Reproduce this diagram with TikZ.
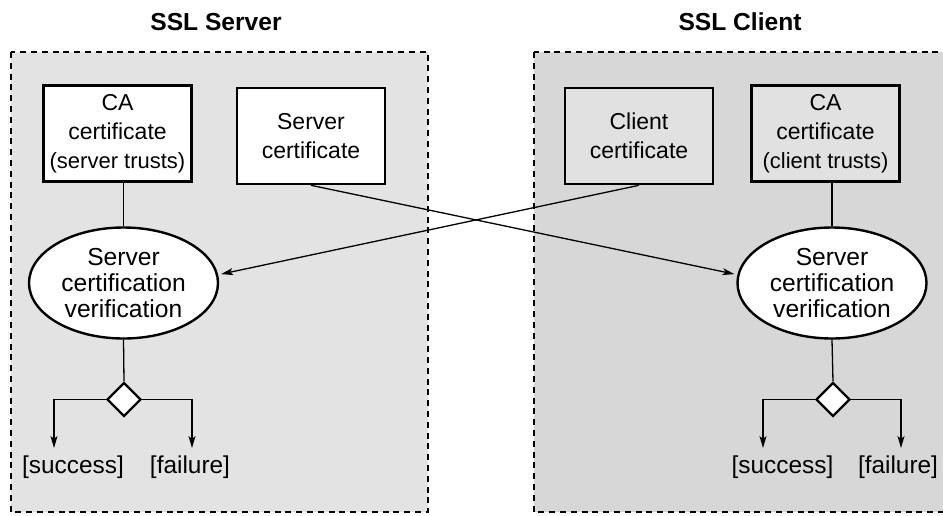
\documentclass[tikz,border=0pt]{standalone}
\usepackage{fontspec}
\setmainfont{Liberation Sans}
\usepackage{xcolor}
\usetikzlibrary{shapes.geometric,arrows.meta}

\definecolor{srvgray}{HTML}{E3E3E3}
\definecolor{cligray}{HTML}{D7D7D7}
\definecolor{boxgray}{HTML}{E1E1E1}

\tikzset{
	panel/.style={draw, line width=1.3pt, dash pattern=on 3pt off 2.4pt},
	certbox/.style={draw, line width=1.3pt, fill=white, minimum width=74pt, minimum height=48pt, align=center, inner sep=1pt, font=\fontsize{11.5}{14.5}\selectfont},
	verify/.style={ellipse, draw, line width=1.2pt, fill=white, minimum width=94.5pt, minimum height=55.5pt, inner sep=0pt, align=center, font=\fontsize{12.3}{13}\selectfont},
	choice/.style={diamond, draw, line width=1.2pt, fill=white, minimum size=17pt, inner sep=0pt},
	result/.style={inner sep=0pt, font=\fontsize{12.2}{14}\selectfont},
	title/.style={inner sep=0pt, font=\bfseries\fontsize{12.3}{14}\selectfont},
	link/.style={line width=0.65pt},
	flow/.style={line width=0.65pt, -{Stealth[length=6pt,width=3.5pt,inset=1.5pt]}}
}

\begin{document}
\begin{tikzpicture}[x=0.5pt,y=-0.5pt]
	\useasboundingbox (0,0) rectangle (943,515);
	% the two sides
	\path[panel,fill=srvgray] (11,52) rectangle (428,512);
	\path[panel,fill=cligray] (534,52) rectangle (962,512);
	\node[title] (srvtitle) at (216,22) {SSL Server};
	\node[title] (clititle) at (740,22) {SSL Client};

	% server side
	\node[certbox] (srvca) at (117.5,133.5) {CA\\certificate\\{\fontsize{11}{14.5}\selectfont(server trusts)}};
	\node[certbox] (srvcert) at (311,136) {Server\\certificate};
	\node[verify] (srvver) at (123.5,283) {Server\\certification\\verification};
	\node[choice] (srvchoice) at (124,399.5) {};
	\coordinate (srvok) at (54,448);
	\coordinate (srvfail) at (192,448);
	\node[result] (srvoklabel) at (73,467) {[success]};
	\node[result] (srvfaillabel) at (190,467) {[failure]};

	% client side
	\node[certbox,fill=boxgray] (clicert) at (639,136) {Client\\certificate};
	\node[certbox,fill=boxgray] (clica) at (825.5,133.5) {CA\\certificate\\{\fontsize{11}{14.5}\selectfont(client trusts)}};
	\node[verify] (cliver) at (832,283) {Server\\certification\\verification};
	\node[choice] (clichoice) at (833,399.5) {};
	\coordinate (cliok) at (763,448);
	\coordinate (clifail) at (901,448);
	\node[result] (clioklabel) at (782.5,467) {[success]};
	\node[result] (clifaillabel) at (898,467) {[failure]};

	% connectors
	\draw[link] (srvver.north) -- (srvver.north |- srvca.south);
	\draw[link] (srvver.south) -- (srvchoice.north);
	\draw[flow] (srvchoice.west) -| (srvok);
	\draw[flow] (srvchoice.east) -| (srvfail);

	\draw[link] (cliver.north) -- (cliver.north |- clica.south);
	\draw[link] (cliver.south) -- (clichoice.north);
	\draw[flow] (clichoice.west) -| (cliok);
	\draw[flow] (clichoice.east) -| (clifail);

	\draw[flow,shorten >=1.5pt] (srvcert.south) -- (cliver.175);
	\draw[flow,shorten >=1.5pt] (clicert.south) -- (srvver.5);
\end{tikzpicture}
\end{document}
